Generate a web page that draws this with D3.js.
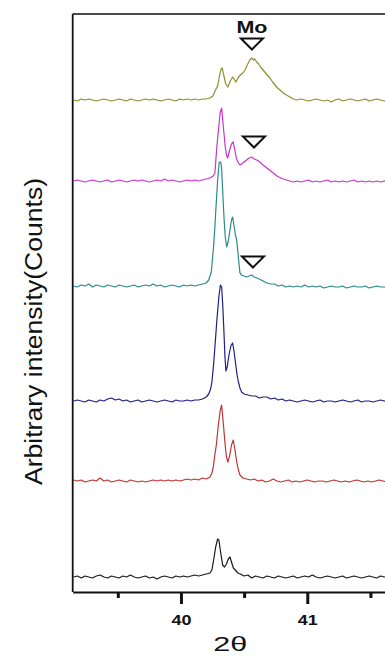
<!DOCTYPE html>
<html>
<head>
<meta charset="utf-8">
<script src="https://cdn.jsdelivr.net/npm/d3@7"></script>
<style>
  html, body { margin: 0; padding: 0; background: #fff; }
  svg { display: block; }
</style>
</head>
<body>
<svg id="chart"></svg>
<script>
// 2theta positions and intensities (counts above each trace's own baseline)
const scanBlack = [[39.15,0],[39.18,1],[39.21,-1],[39.24,1],[39.27,0],[39.30,-1],[39.33,1],[39.36,2],[39.39,0],[39.42,-1],[39.45,1],[39.48,0],[39.51,-1],[39.54,1],[39.57,0],[39.60,2],[39.63,0],[39.66,-1],[39.69,0],[39.72,1],[39.75,-1],[39.78,0],[39.81,-2],[39.84,0],[39.87,1],[39.90,0],[39.93,-1],[39.96,1],[39.99,0],[40.02,1],[40.05,0],[40.08,1],[40.11,2],[40.14,1],[40.17,2],[40.20,3],[40.23,4],[40.245,7],[40.26,18],[40.275,30],[40.29,38],[40.30,37],[40.315,24],[40.33,12],[40.345,10],[40.36,13],[40.375,18],[40.388,20],[40.40,15],[40.415,9],[40.43,7],[40.45,4],[40.47,3],[40.50,1],[40.53,2],[40.56,-1],[40.59,1],[40.62,0],[40.65,-1],[40.68,1],[40.71,0],[40.74,-1],[40.77,1],[40.80,0],[40.83,-1],[40.86,0],[40.89,1],[40.92,-1],[40.95,0],[40.98,1],[41.01,0],[41.04,2],[41.07,0],[41.10,-1],[41.13,0],[41.16,1],[41.19,0],[41.22,-1],[41.25,0],[41.28,1],[41.31,-1],[41.34,0],[41.37,1],[41.40,0],[41.43,-1],[41.46,0],[41.49,1],[41.52,0],[41.55,-1],[41.58,1],[41.61,0],[41.64,0],[41.67,1],[41.70,0]];

const scanRed = [[39.15,1],[39.18,0],[39.21,1],[39.24,-1],[39.27,0],[39.30,1],[39.33,0],[39.36,3],[39.39,0],[39.42,1],[39.45,-1],[39.48,0],[39.51,1],[39.54,0],[39.57,-1],[39.60,1],[39.63,0],[39.66,-1],[39.69,0],[39.72,-1],[39.75,0],[39.78,1],[39.81,0],[39.84,1],[39.87,0],[39.90,1],[39.93,0],[39.96,1],[39.99,0],[40.02,1],[40.05,2],[40.08,1],[40.11,2],[40.14,1],[40.17,3],[40.20,2],[40.23,4],[40.245,8],[40.256,14],[40.268,26],[40.28,36],[40.295,55],[40.31,70],[40.322,76],[40.335,58],[40.35,36],[40.36,24],[40.372,19],[40.385,25],[40.40,36],[40.414,41],[40.428,31],[40.44,20],[40.455,11],[40.467,6],[40.49,3],[40.52,2],[40.55,1],[40.58,2],[40.61,0],[40.64,1],[40.67,-1],[40.70,0],[40.73,2],[40.76,0],[40.79,-1],[40.82,0],[40.85,1],[40.88,-1],[40.91,0],[40.94,-1],[40.97,0],[41.00,1],[41.03,0],[41.06,-1],[41.09,0],[41.12,0],[41.15,-1],[41.18,0],[41.21,1],[41.24,0],[41.27,-1],[41.30,0],[41.33,-1],[41.36,0],[41.39,1],[41.42,0],[41.45,-1],[41.48,0],[41.51,-1],[41.54,0],[41.57,1],[41.60,0],[41.63,-1],[41.66,0],[41.70,1]];

const scanBlue = [[39.15,0],[39.18,1],[39.21,0],[39.24,-1],[39.27,1],[39.30,0],[39.33,-1],[39.36,1],[39.39,0],[39.42,2],[39.45,3],[39.48,1],[39.51,2],[39.54,0],[39.57,1],[39.60,-1],[39.63,0],[39.66,1],[39.69,-1],[39.72,0],[39.75,1],[39.78,0],[39.81,-1],[39.84,0],[39.87,1],[39.90,0],[39.93,-1],[39.96,1],[39.99,0],[40.02,0],[40.05,1],[40.08,0],[40.11,1],[40.14,1],[40.17,2],[40.20,4],[40.22,7],[40.235,12],[40.245,19],[40.258,36],[40.27,56],[40.285,82],[40.30,104],[40.312,116],[40.322,114],[40.33,98],[40.34,70],[40.348,45],[40.356,30],[40.366,34],[40.38,46],[40.395,55],[40.409,58],[40.42,50],[40.432,38],[40.444,26],[40.455,19],[40.467,13],[40.48,9],[40.50,7],[40.53,6],[40.56,5],[40.59,5],[40.62,3],[40.65,4],[40.68,4],[40.71,2],[40.74,3],[40.77,1],[40.80,2],[40.83,0],[40.86,1],[40.89,0],[40.92,-1],[40.95,0],[40.98,1],[41.01,0],[41.04,-1],[41.07,0],[41.10,1],[41.13,-1],[41.16,0],[41.19,0],[41.22,-1],[41.25,0],[41.28,1],[41.31,0],[41.34,-1],[41.37,0],[41.40,1],[41.43,-1],[41.46,0],[41.49,0],[41.52,-1],[41.55,0],[41.58,1],[41.61,0],[41.64,-1],[41.67,0],[41.70,0]];

const scanTeal = [[39.15,0],[39.18,-1],[39.21,1],[39.24,0],[39.27,2],[39.30,-1],[39.33,1],[39.36,0],[39.39,-1],[39.42,1],[39.45,0],[39.48,-1],[39.51,1],[39.54,0],[39.57,-1],[39.60,0],[39.63,1],[39.66,-1],[39.69,0],[39.72,1],[39.75,0],[39.78,2],[39.81,0],[39.84,1],[39.87,-1],[39.90,0],[39.93,1],[39.96,0],[39.99,-1],[40.02,1],[40.05,0],[40.08,1],[40.11,0],[40.14,1],[40.17,2],[40.20,3],[40.22,6],[40.24,14],[40.256,36],[40.268,58],[40.277,78],[40.29,105],[40.303,124],[40.315,124],[40.322,118],[40.33,96],[40.34,70],[40.35,50],[40.362,39],[40.375,45],[40.39,58],[40.40,66],[40.409,69],[40.42,60],[40.43,52],[40.441,46],[40.455,28],[40.467,13],[40.48,11],[40.50,10],[40.52,9],[40.54,10],[40.56,11],[40.58,9],[40.60,8],[40.62,7],[40.65,5],[40.68,3],[40.71,2],[40.74,2],[40.77,0],[40.80,1],[40.83,-1],[40.86,0],[40.89,-1],[40.92,0],[40.95,-1],[40.98,1],[41.01,-1],[41.04,0],[41.07,-1],[41.10,0],[41.13,-2],[41.16,-1],[41.19,0],[41.22,-1],[41.25,-1],[41.28,0],[41.31,-2],[41.34,-1],[41.37,0],[41.40,-1],[41.43,-1],[41.46,0],[41.49,-2],[41.52,-1],[41.55,0],[41.58,-1],[41.61,-1],[41.64,0],[41.67,-1],[41.70,-1]];

const scanMagenta = [[39.15,0],[39.18,1],[39.21,0],[39.24,-1],[39.27,0],[39.30,1],[39.33,0],[39.36,-1],[39.39,0],[39.42,1],[39.45,-1],[39.48,0],[39.51,1],[39.54,0],[39.57,-1],[39.60,0],[39.63,1],[39.66,0],[39.69,1],[39.72,0],[39.75,-1],[39.78,0],[39.81,1],[39.84,0],[39.87,2],[39.90,0],[39.93,1],[39.96,0],[39.99,-1],[40.02,0],[40.05,1],[40.08,0],[40.11,1],[40.14,0],[40.17,1],[40.20,2],[40.23,3],[40.255,5],[40.269,8],[40.283,33],[40.30,55],[40.31,68],[40.322,73],[40.335,55],[40.35,35],[40.36,26],[40.37,23],[40.385,31],[40.40,37],[40.414,39],[40.428,30],[40.44,22],[40.455,18],[40.467,16],[40.48,17],[40.50,19],[40.52,21],[40.54,23],[40.56,24],[40.58,22],[40.60,21],[40.625,19],[40.65,16],[40.68,13],[40.70,11],[40.731,8],[40.76,5],[40.79,3],[40.81,2],[40.837,1],[40.86,0],[40.89,-1],[40.92,0],[40.95,-1],[40.98,0],[41.01,1],[41.04,-1],[41.07,0],[41.10,-1],[41.13,0],[41.16,1],[41.19,-1],[41.22,0],[41.25,-1],[41.28,0],[41.31,-1],[41.34,0],[41.37,1],[41.40,-1],[41.43,0],[41.46,-1],[41.49,0],[41.52,-1],[41.55,0],[41.58,-1],[41.61,0],[41.64,-1],[41.67,0],[41.70,-1]];

const scanOlive = [[39.15,0],[39.18,-1],[39.21,1],[39.24,0],[39.27,1],[39.30,0],[39.33,-1],[39.36,0],[39.39,1],[39.42,0],[39.45,-1],[39.48,0],[39.51,1],[39.54,0],[39.57,-1],[39.60,1],[39.63,0],[39.66,-1],[39.69,0],[39.72,1],[39.75,0],[39.78,1],[39.81,0],[39.84,-1],[39.87,0],[39.90,1],[39.93,0],[39.96,-1],[39.99,1],[40.02,0],[40.05,1],[40.08,0],[40.11,1],[40.14,0],[40.17,1],[40.20,1],[40.23,2],[40.253,4],[40.27,9],[40.29,14],[40.305,24],[40.318,31],[40.327,32],[40.34,24],[40.355,16],[40.372,13],[40.39,19],[40.41,23],[40.425,20],[40.435,18],[40.45,22],[40.47,25],[40.49,27],[40.507,30],[40.525,35],[40.545,40],[40.56,42],[40.575,40],[40.585,41],[40.599,38],[40.615,36],[40.63,33],[40.65,30],[40.67,27],[40.69,24],[40.705,22],[40.725,18],[40.745,15],[40.765,12],[40.784,10],[40.81,7],[40.835,5],[40.863,3],[40.89,1],[40.92,0],[40.95,1],[40.98,0],[41.01,-1],[41.04,0],[41.07,1],[41.10,0],[41.13,-1],[41.16,0],[41.19,-2],[41.22,0],[41.25,1],[41.28,-1],[41.31,0],[41.34,1],[41.37,0],[41.40,-1],[41.43,0],[41.46,1],[41.49,-1],[41.52,0],[41.55,1],[41.58,0],[41.61,-1],[41.64,0],[41.67,1],[41.70,0]];

// vertical offset of each trace (counts) and its colour
const traceOffsets = [15, 111, 191, 306, 411, 492];
const traceColors = ['#1a1a1a', '#c03434', '#1f1f8c', '#2b8a8a', '#cc33cc', '#8e8e30'];
const scans = [scanBlack, scanRed, scanBlue, scanTeal, scanMagenta, scanOlive];

// open triangle markers for Mo reflections [2theta, counts]
const moMarkers = [[40.562, 548], [40.578, 450], [40.570, 330]];
const majorTicks = [40, 41];
const minorTicks = [39.5, 40.5, 41.5];

const width = 385, height = 661;
const margin = {top: 14, left: 72.7, bottom: 592};

const svg = d3.select('#chart')
    .attr('width', width)
    .attr('height', height);

const x = d3.scaleLinear()
    .domain([39.143, 41.7])
    .range([margin.left, 395.7]);

const y = d3.scaleLinear()
    .domain([0, 578])
    .range([margin.bottom, margin.top]);

const line = d3.line()
    .x(d => x(d[0]))
    .y(d => y(d[1]));

scans.forEach((scan, i) => {
    const off = traceOffsets[i];
    svg.append('path')
        .datum(scan.map(d => [d[0], d[1] + off]))
        .attr('fill', 'none')
        .attr('stroke', traceColors[i])
        .attr('stroke-width', 1.2)
        .attr('stroke-linejoin', 'round')
        .attr('d', line);
});

// frame: top and left
svg.append('line')
    .attr('x1', margin.left).attr('x2', width + 20)
    .attr('y1', margin.top).attr('y2', margin.top)
    .attr('stroke', '#111').attr('stroke-width', 1.5);
svg.append('line')
    .attr('x1', margin.left).attr('x2', margin.left)
    .attr('y1', margin.top).attr('y2', margin.bottom)
    .attr('stroke', '#111').attr('stroke-width', 1.8);

// bottom axis
const xAxis = g => g
    .attr('transform', `translate(0,${margin.bottom})`)
    .call(d3.axisBottom(x).tickValues(majorTicks).tickSize(12).tickPadding(11)
        .tickFormat(d3.format('d')).tickSizeOuter(0))
    .call(g => g.select('.domain').attr('stroke-width', 2.2).attr('stroke', '#111'))
    .call(g => g.selectAll('.tick line').attr('stroke-width', 3).attr('stroke', '#111'))
    .call(g => g.selectAll('.tick text')
        .attr('font-family', 'Liberation Sans, Arial, sans-serif')
        .attr('font-weight', 'bold')
        .attr('font-size', 14)
        .attr('fill', '#111')
        .attr('textLength', 20)
        .attr('lengthAdjust', 'spacingAndGlyphs'));

svg.append('g').call(xAxis);

svg.append('g')
    .attr('transform', `translate(0,${margin.bottom})`)
    .call(d3.axisBottom(x).tickValues(minorTicks).tickSize(6).tickFormat(''))
    .call(g => g.select('.domain').remove())
    .call(g => g.selectAll('.tick line').attr('stroke-width', 3).attr('stroke', '#111'));

// Mo markers
svg.append('g')
    .selectAll('path')
    .data(moMarkers)
    .join('path')
    .attr('transform', d => `translate(${x(d[0])},${y(d[1])})`)
    .attr('d', 'M-11,-5.5L11,-5.5L0,5.5Z')
    .attr('fill', '#fff')
    .attr('stroke', '#111')
    .attr('stroke-width', 2)
    .attr('stroke-linejoin', 'miter');

svg.append('text')
    .attr('x', x(moMarkers[0][0]))
    .attr('y', y(559))
    .attr('text-anchor', 'middle')
    .attr('font-family', 'Liberation Sans, Arial, sans-serif')
    .attr('font-weight', 'bold')
    .attr('font-size', 17)
    .attr('textLength', 31)
    .attr('lengthAdjust', 'spacingAndGlyphs')
    .attr('fill', '#111')
    .text('Mo');

// axis titles
svg.append('text')
    .attr('x', x(40.39))
    .attr('y', 651)
    .attr('text-anchor', 'middle')
    .attr('font-family', 'Liberation Sans, Arial, sans-serif')
    .attr('font-size', 20)
    .attr('textLength', 34)
    .attr('lengthAdjust', 'spacingAndGlyphs')
    .attr('fill', '#111')
    .text('2θ');

svg.append('text')
    .attr('transform', 'translate(41.5,331.5) rotate(-90)')
    .attr('text-anchor', 'middle')
    .attr('font-family', 'Liberation Sans, Arial, sans-serif')
    .attr('font-size', 23)
    .attr('textLength', 307)
    .attr('lengthAdjust', 'spacingAndGlyphs')
    .attr('fill', '#111')
    .text('Arbitrary intensity(Counts)');
</script>
</body>
</html>
